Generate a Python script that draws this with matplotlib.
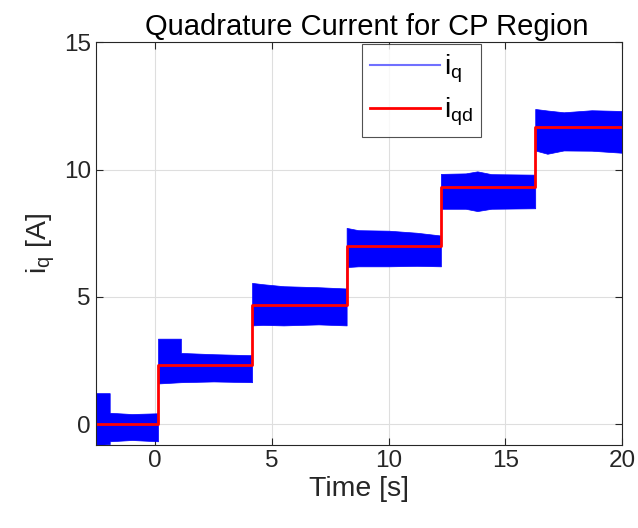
import numpy as np
import matplotlib
matplotlib.use('Agg')
import matplotlib.pyplot as plt
from matplotlib.lines import Line2D

plt.rcParams['font.family'] = ['Liberation Sans', 'DejaVu Sans']
plt.rcParams['mathtext.fontset'] = 'custom'
plt.rcParams['mathtext.rm'] = 'Liberation Sans'
plt.rcParams['mathtext.it'] = 'Liberation Sans'

# reference current i_qd: step times and levels
step_t = [-2.55, 0.12, 4.15, 8.2, 12.24, 16.28, 20.0]
step_iqd = [0.0, 2.333, 4.667, 7.0, 9.333, 11.667, 11.667]

env_t = [-2.55, -1.95, -1.95, -1.0, 0.12,
         0.12, 1.1, 1.1, 2.5, 4.15,
         4.15, 4.6, 5.5, 7.0, 8.2,
         8.2, 8.7, 10.0, 11.2, 12.24,
         12.24, 13.3, 13.8, 14.4, 16.28,
         16.28, 16.8, 17.5, 18.7, 20.0]
env_hi = [1.22, 1.22, 0.45, 0.40, 0.43,
          3.36, 3.36, 2.80, 2.75, 2.71,
          5.55, 5.50, 5.42, 5.38, 5.33,
          7.71, 7.62, 7.60, 7.52, 7.41,
          9.83, 9.85, 9.93, 9.82, 9.80,
          12.38, 12.32, 12.25, 12.33, 12.30]
env_lo = [-0.82, -0.78, -0.67, -0.62, -0.67,
          1.60, 1.65, 1.65, 1.68, 1.65,
          3.88, 3.90, 3.88, 3.92, 3.88,
          6.17, 6.20, 6.20, 6.22, 6.20,
          8.46, 8.46, 8.37, 8.46, 8.48,
          10.75, 10.62, 10.75, 10.74, 10.66]

fig = plt.figure(figsize=(6.38, 5.28), dpi=100)
ax = fig.add_axes([0.150, 0.157, 0.825, 0.763])

ax.fill_between(env_t, env_lo, env_hi, color='blue', lw=0.5, edgecolor='blue')
ax.step(step_t, step_iqd, where='post', color='red', lw=2)

ax.set_xlim(-2.55, 20)
ax.set_ylim(-0.82, 15)
ax.set_xticks([0, 5, 10, 15, 20])
ax.set_yticks([0, 5, 10, 15])
ax.grid(True, color='#dedede', lw=0.8)
ax.set_axisbelow(True)
ax.tick_params(direction='in', top=True, right=True, labelsize=17.5,
               colors='#262626', length=5)
for s in ax.spines.values():
    s.set_color('#262626')
    s.set_linewidth(0.8)

ax.set_xlabel('Time [s]', fontsize=20.5, color='#262626', labelpad=3)
ax.set_ylabel(r'$\mathrm{i_q}$ [A]', fontsize=20.5, color='#262626', labelpad=5)
ax.set_title('Quadrature Current for CP Region', fontsize=21, color='black',
             pad=5, x=0.515)

handles = [Line2D([], [], color='#7070ff', lw=1.5),
           Line2D([], [], color='red', lw=2)]
leg = ax.legend(handles, [r'$\mathrm{i_q}$', r'$\mathrm{i_{qd}}$'],
                loc='upper left', bbox_to_anchor=(0.506, 0.995),
                fontsize=20, frameon=True, fancybox=False,
                edgecolor='#262626', handlelength=2.5, handletextpad=0.15,
                borderpad=0.3, labelspacing=0.4, borderaxespad=0)
leg.get_frame().set_linewidth(0.8)

fig.savefig('out.png', dpi=100)
